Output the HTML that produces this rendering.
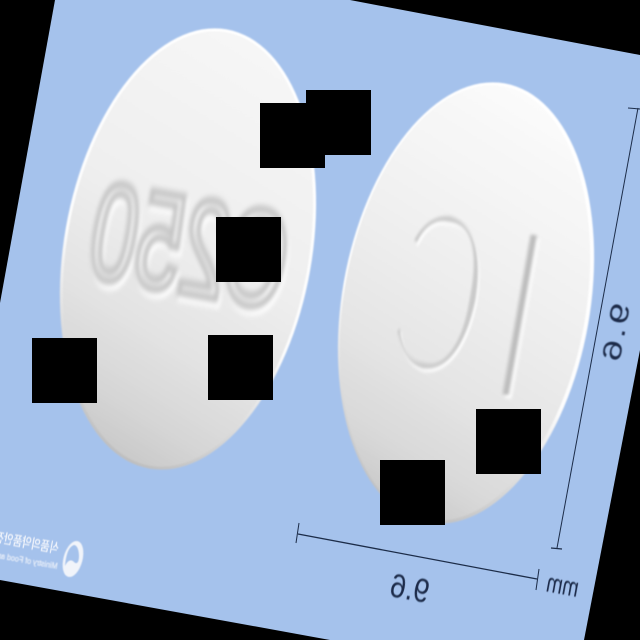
<!DOCTYPE html>
<html lang="ko">
<head>
<meta charset="utf-8">
<title>Pill photo</title>
<style>
html,body{margin:0;padding:0;background:#000;width:640px;height:640px;overflow:hidden}
svg{display:block}
text{font-family:"Liberation Sans","Noto Sans CJK KR",sans-serif}
</style>
</head>
<body>
<svg xmlns="http://www.w3.org/2000/svg" width="640" height="640" viewBox="0 0 640 640">
<defs>
<linearGradient id="pillL" x1="0.62" y1="0" x2="0.4" y2="1">
<stop offset="0" stop-color="#f6f6f6"/><stop offset="0.45" stop-color="#efefef"/><stop offset="0.72" stop-color="#e2e2e2"/><stop offset="0.88" stop-color="#d6d6d6"/><stop offset="1" stop-color="#c9c9c9"/>
</linearGradient>
<linearGradient id="pillR" x1="0.62" y1="0" x2="0.4" y2="1">
<stop offset="0" stop-color="#fbfbfb"/><stop offset="0.4" stop-color="#f0f0f0"/><stop offset="0.7" stop-color="#e4e4e4"/><stop offset="0.88" stop-color="#d8d8d8"/><stop offset="1" stop-color="#c8c8c8"/>
</linearGradient>
<linearGradient id="rim" x1="0.6" y1="0" x2="0.4" y2="1">
<stop offset="0" stop-color="#ffffff"/><stop offset="0.6" stop-color="#fdfdfd"/><stop offset="0.85" stop-color="#d4d4d4"/><stop offset="1" stop-color="#bdbdbd"/>
</linearGradient>
<filter id="soft" x="-5%" y="-5%" width="110%" height="110%"><feGaussianBlur stdDeviation="0.9"/></filter>
<filter id="embossOutline" x="-20%" y="-20%" width="140%" height="140%">
<feGaussianBlur in="SourceAlpha" stdDeviation="3" result="b"/>
<feFlood flood-color="#c6c6c6" result="c1"/>
<feComposite in="c1" in2="b" operator="in" result="dark"/>
<feOffset in="b" dx="-4" dy="5" result="o"/>
<feFlood flood-color="#ffffff" result="c2"/>
<feComposite in="c2" in2="o" operator="in" result="light"/>
<feMerge><feMergeNode in="light"/><feMergeNode in="dark"/></feMerge>
</filter>
<filter id="embossThinI" x="-60%" y="-20%" width="220%" height="140%">
<feMorphology in="SourceAlpha" operator="erode" radius="9" result="e"/>
<feGaussianBlur in="e" stdDeviation="1.5" result="b"/>
<feFlood flood-color="#bcbcbc" result="c1"/>
<feComposite in="c1" in2="b" operator="in" result="dark"/>
<feOffset in="b" dx="-3" dy="3" result="o"/>
<feFlood flood-color="#ffffff" result="c2"/>
<feComposite in="c2" in2="o" operator="in" result="light"/>
<feMerge><feMergeNode in="light"/><feMergeNode in="dark"/></feMerge>
</filter>
<filter id="embossThinC" x="-30%" y="-20%" width="160%" height="140%">
<feMorphology in="SourceAlpha" operator="erode" radius="6" result="e"/>
<feGaussianBlur in="e" stdDeviation="1.8" result="b"/>
<feFlood flood-color="#cacaca" result="c1"/>
<feComposite in="c1" in2="b" operator="in" result="dark"/>
<feOffset in="b" dx="-4" dy="3" result="o"/>
<feFlood flood-color="#ffffff" result="c2"/>
<feComposite in="c2" in2="o" operator="in" result="light"/>
<feMerge><feMergeNode in="light"/><feMergeNode in="dark"/></feMerge>
</filter>
<filter id="txtBlur" x="-10%" y="-10%" width="120%" height="120%"><feGaussianBlur stdDeviation="0.45"/></filter>
</defs>

<rect x="0" y="0" width="640" height="640" fill="#000"/>
<polygon points="55,0 350,0 640,55 640,350 584,640 330,640 0,580 0,303" fill="#a5c2ec"/>

<g>
<ellipse cx="188" cy="249" rx="124" ry="223" transform="rotate(10 188 249)" fill="url(#rim)" filter="url(#soft)"/>
<ellipse cx="188" cy="249" rx="121" ry="220" transform="rotate(10 188 249)" fill="url(#pillL)" filter="url(#soft)"/>
<text transform="translate(279,310) rotate(10) scale(-0.6,1)" font-size="138" fill="none" stroke="#000" stroke-width="8" filter="url(#embossOutline)">C250</text>
</g>

<g>
<ellipse cx="466" cy="303" rx="124" ry="223" transform="rotate(10 466 303)" fill="url(#rim)" filter="url(#soft)"/>
<ellipse cx="465" cy="303" rx="121" ry="220" transform="rotate(10 465 303)" fill="url(#pillR)" filter="url(#soft)"/>
<text transform="translate(540,410) rotate(10) scale(-1,1)" font-size="262" filter="url(#embossThinI)">I</text>
<text transform="translate(471,381) rotate(10) scale(-0.54,1)" font-size="236" filter="url(#embossThinC)">C</text>
</g>

<g stroke="#1c2c48" fill="none">
<line x1="298" y1="534" x2="537" y2="579" stroke-width="1.3"/>
<line x1="299" y1="523" x2="296" y2="543" stroke-width="1"/>
<line x1="539" y1="569" x2="536" y2="590" stroke-width="1"/>
</g>
<text transform="translate(427,603) rotate(10.4) scale(-0.85,1)" font-size="33" fill="#1c2c48" filter="url(#txtBlur)">9.6</text>
<text transform="translate(577,597) rotate(10.4) scale(-0.72,1)" font-size="27" fill="#1c2c48" filter="url(#txtBlur)">mm</text>

<g stroke="#1c2c48" fill="none">
<line x1="638" y1="108" x2="557" y2="548" stroke-width="1"/>
<line x1="628" y1="108" x2="640" y2="109" stroke-width="1"/>
<line x1="551" y1="548" x2="562" y2="549" stroke-width="1.2"/>
</g>
<text transform="translate(630,305) rotate(-79.6) scale(-1.45,1)" font-size="26" letter-spacing="2" fill="#1c2c48" filter="url(#txtBlur)">9.6</text>

<g>
<ellipse cx="73" cy="559" rx="9.5" ry="18.5" transform="rotate(15 73 559)" fill="#f1f4fa" filter="url(#txtBlur)"/>
<path d="M74 545 C68 547 66 556 65 566 C68 560 71 559 74 562 C77 565 79 562 79 556 C79 550 77 545 74 545 Z" fill="#a5c2ec" filter="url(#txtBlur)"/>
<text transform="translate(58,553) rotate(10.4) scale(-0.78,1)" font-size="13" fill="#f5f7fc" stroke="#f5f7fc" stroke-width="0.3" filter="url(#txtBlur)">식품의약품안전처</text>
<text transform="translate(57,569) rotate(10.4) scale(-0.9,1)" font-size="8" fill="#eef2fa" stroke="#eef2fa" stroke-width="0.2" filter="url(#txtBlur)">Ministry of Food and Drug Safety</text>
</g>

<g fill="#000">
<rect x="260" y="103" width="65" height="65"/>
<rect x="306" y="90" width="65" height="65"/>
<rect x="216" y="217" width="65" height="65"/>
<rect x="32" y="338" width="65" height="65"/>
<rect x="208" y="335" width="65" height="65"/>
<rect x="476" y="409" width="65" height="65"/>
<rect x="380" y="460" width="65" height="65"/>
</g>
</svg>
</body>
</html>
